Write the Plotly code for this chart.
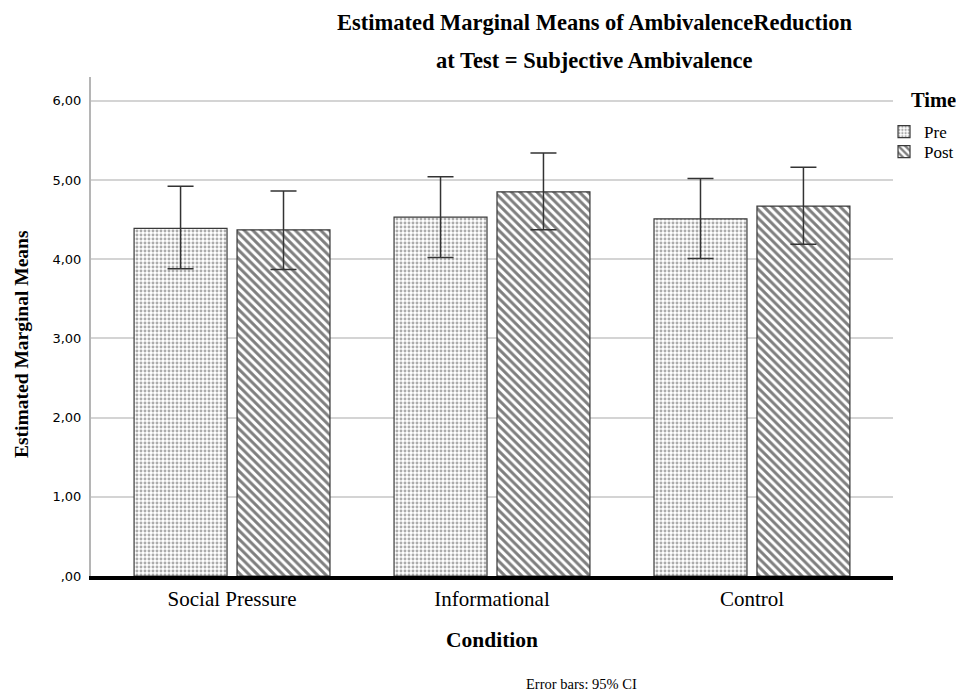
import plotly.graph_objects as go

conditions = ["Social Pressure", "Informational", "Control"]
pre_means = [4.39, 4.53, 4.51]
pre_lower = [3.88, 4.02, 4.01]
pre_upper = [4.92, 5.04, 5.02]
post_means = [4.37, 4.85, 4.67]
post_lower = [3.87, 4.37, 4.19]
post_upper = [4.86, 5.34, 5.16]
y_tickvals = [0, 1, 2, 3, 4, 5, 6]
y_ticktext = [",00", "1,00", "2,00", "3,00", "4,00", "5,00", "6,00"]

SERIF = "Liberation Serif"

def err(means, lo, hi):
    return dict(type="data", symmetric=False,
                array=[h - m for m, h in zip(means, hi)],
                arrayminus=[m - l for m, l in zip(means, lo)],
                color="#333333", thickness=1.5, width=13)

fig = go.Figure()
fig.add_trace(go.Bar(
    name="Pre", x=conditions, y=pre_means, legend="legend",
    marker=dict(color="white", line=dict(color="#3a3a3a", width=1.2),
                pattern=dict(shape=".", size=4, solidity=0.42, fgcolor="#5a5a5a", bgcolor="white", fillmode="overlay")),
    error_y=err(pre_means, pre_lower, pre_upper),
))
fig.add_trace(go.Bar(
    name="Post", x=conditions, y=post_means, legend="legend2",
    marker=dict(color="white", line=dict(color="#3a3a3a", width=1.2),
                pattern=dict(shape="\\", size=6, solidity=0.5, fgcolor="#000000", bgcolor="white", fillmode="overlay")),
    error_y=err(post_means, post_lower, post_upper),
))

legend_style = dict(x=0.9888, xanchor="left", yanchor="middle",
                    font=dict(family=SERIF, size=17, color="black"),
                    bgcolor="rgba(0,0,0,0)")

# page has an 8px body margin, so the figure is drawn at (8, 8)
fig.update_layout(
    width=956, height=685,
    margin=dict(l=83, r=71, t=69, b=117, autoexpand=False),
    paper_bgcolor="white", plot_bgcolor="white",
    barmode="group", bargap=0.208, bargroupgap=0.097,
    showlegend=True,
    legend=dict(y=0.8898, **legend_style),
    legend2=dict(y=0.8497, **legend_style),
    xaxis=dict(range=[-0.5425, 2.5425], showgrid=False, showline=True, linecolor="black", linewidth=4,
               ticks="", tickfont=dict(family=SERIF, size=21, color="black"), ticklabelstandoff=1),
    yaxis=dict(range=[0, 6.3], tickvals=y_tickvals, ticktext=y_ticktext, showgrid=True,
               gridcolor="#d4d4d4", gridwidth=1.5, showline=True, linecolor="#b5b5b5", linewidth=2,
               zeroline=False, ticks="", tickfont=dict(family="DejaVu Sans", size=13, color="black"),
               ticklabelstandoff=5),
    annotations=[
        dict(text="<b>Estimated Marginal Means of AmbivalenceReduction</b>", x=0.628, y=1.110,
             xref="paper", yref="paper", showarrow=False, xanchor="center", yanchor="middle",
             font=dict(family=SERIF, size=22.5, color="black")),
        dict(text="<b>at Test = Subjective Ambivalence</b>", x=0.628, y=1.034,
             xref="paper", yref="paper", showarrow=False, xanchor="center", yanchor="middle",
             font=dict(family=SERIF, size=22.5, color="black")),
        dict(text="<b>Time</b>", x=1.0499, y=0.9539, xref="paper", yref="paper", showarrow=False,
             xanchor="center", yanchor="middle", font=dict(family=SERIF, size=20.5, color="black")),
        dict(text="<b>Condition</b>", x=0.5, y=-0.128, xref="paper", yref="paper", showarrow=False,
             xanchor="center", yanchor="middle", font=dict(family=SERIF, size=21.5, color="black")),
        dict(text="<b>Estimated Marginal Means</b>", x=-0.086, y=0.465, xref="paper", yref="paper",
             showarrow=False, textangle=-90, xanchor="center", yanchor="middle",
             font=dict(family=SERIF, size=19.5, color="black")),
        dict(text="Error bars: 95% CI", x=0.611, y=-0.2164, xref="paper", yref="paper", showarrow=False,
             xanchor="center", yanchor="middle", font=dict(family=SERIF, size=14.5, color="black")),
    ],
)

fig.write_html("out.html")
